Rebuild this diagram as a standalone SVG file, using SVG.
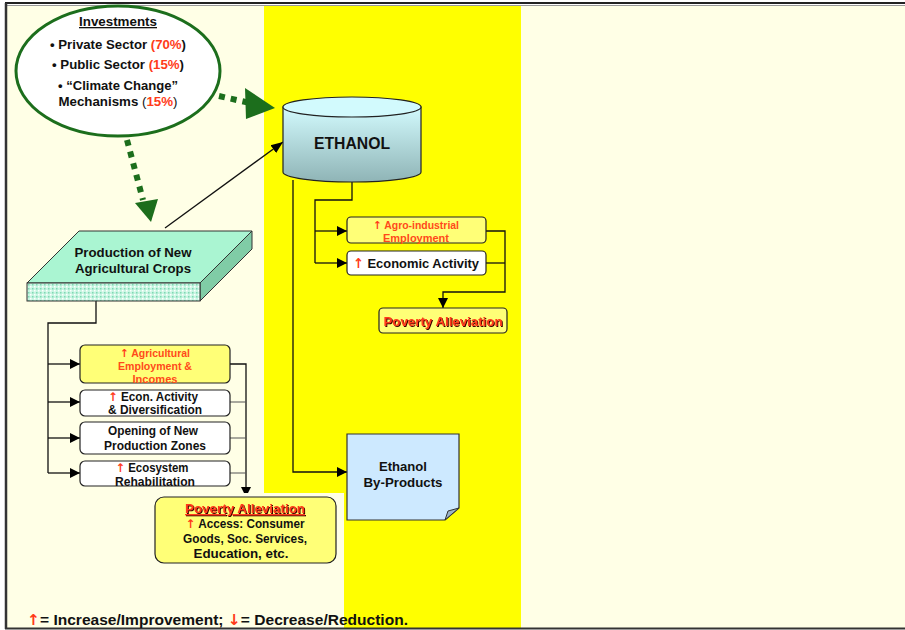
<svg xmlns="http://www.w3.org/2000/svg" width="905" height="630" viewBox="0 0 905 630">
<defs>
<linearGradient id="cyl" x1="0" y1="0" x2="0" y2="1">
<stop offset="0" stop-color="#d2fafd"/>
<stop offset="1" stop-color="#8fb4b6"/>
</linearGradient>
<pattern id="dots" width="4" height="4" patternUnits="userSpaceOnUse">
<rect width="4" height="4" fill="#c8f5e2"/>
<rect x="0" y="0" width="1.5" height="1.5" fill="#7fd8b3"/>
<rect x="2" y="2" width="1.5" height="1.5" fill="#ffffff"/>
</pattern>
<marker id="ah" viewBox="0 0 10 10" refX="10" refY="5" markerWidth="10" markerHeight="10" markerUnits="userSpaceOnUse" orient="auto">
<path d="M0,0 L10,5 L0,10 Z" fill="#000"/>
</marker>
<marker id="ahs" viewBox="0 0 10 10" refX="10" refY="5" markerWidth="12" markerHeight="12" markerUnits="userSpaceOnUse" orient="auto">
<path d="M0,1 L10,5 L0,9 Z" fill="#000"/>
</marker>
<filter id="sh" x="-5%" y="-20%" width="110%" height="140%">
<feDropShadow dx="1" dy="1" stdDeviation="0" flood-color="#3a0000" flood-opacity="1"/>
</filter>
<style>
text{font-family:"Liberation Sans",Arial,sans-serif;font-weight:bold;}
.c{text-anchor:middle;}
.t13{font-size:13px;fill:#111;}
.t12{font-size:12px;fill:#111;}
.r{fill:#ff3b1a;}
.ar{fill:#ff3b1a;font-family:"DejaVu Sans",sans-serif;font-weight:bold;}
.rt{font-size:11px;fill:#ff4a1a;}
.box{stroke:#222;stroke-width:1.2;}
.yb{fill:#ffff77;}
.wb{fill:#ffffff;}
.ln{fill:none;stroke:#111;stroke-width:1.3;}
.gl{fill:none;stroke:#555;stroke-width:1.2;}
.gd{fill:none;stroke:#1c6e1c;stroke-width:6;stroke-dasharray:6 6;}
</style>
</defs>

<!-- background & frame -->
<rect x="0" y="0" width="905" height="630" fill="#ffffff"/>
<rect x="6" y="5" width="899" height="623" fill="#ffffe6"/>
<rect x="264" y="5" width="257" height="488" fill="#ffff00"/>
<rect x="344" y="493" width="177" height="135" fill="#ffff00"/>
<line x1="5" y1="3" x2="905" y2="3" stroke="#222" stroke-width="2"/>
<line x1="5" y1="5.5" x2="905" y2="5.5" stroke="#999" stroke-width="1"/>
<line x1="6" y1="3" x2="6" y2="629" stroke="#333" stroke-width="2.5"/>
<line x1="5" y1="628.5" x2="905" y2="628.5" stroke="#333" stroke-width="2"/>

<!-- connectors -->
<g id="connectors">
<path class="gd" d="M219,96 L250,103"/>
<path d="M245,88 L275,108 L246,119 Z" fill="#1c6e1c"/>
<path class="gd" d="M127,140 L143,200"/>
<path d="M135,203 L151,222 L158,199 Z" fill="#1c6e1c"/>
<path class="ln" d="M165,228 L283,142" marker-end="url(#ahs)"/>
<path class="ln" d="M352,182 L352,200 L315,200 L315,263"/>
<path class="ln" d="M315,231 L347,231" marker-end="url(#ah)"/>
<path class="ln" d="M315,263 L347,263" marker-end="url(#ah)"/>
<path class="ln" d="M486,231 L505,231 L505,292 L443,292 L443,308" marker-end="url(#ah)"/>
<path class="ln" d="M486,263 L505,263"/>
<path class="ln" d="M293,180 L293,472 L347,472" marker-end="url(#ah)"/>
<path class="ln" d="M96,301 L96,323 L48,323 L48,473"/>
<path class="ln" d="M48,364 L80,364" marker-end="url(#ah)"/>
<path class="ln" d="M48,402 L80,402" marker-end="url(#ah)"/>
<path class="ln" d="M48,438 L80,438" marker-end="url(#ah)"/>
<path class="ln" d="M48,473 L80,473" marker-end="url(#ah)"/>
<path class="ln" d="M230,364 L246,364 L246,497" marker-end="url(#ah)"/>
<path class="gl" d="M230,402 L246,402 M230,438 L246,438 M230,473 L246,473"/>
</g>

<g id="investments">
<ellipse cx="118" cy="71" rx="102" ry="65" fill="#ffffff" stroke="#1c6e1c" stroke-width="3"/>
<text class="t13 c" x="118" y="26" text-decoration="underline" textLength="78" lengthAdjust="spacingAndGlyphs">Investments</text>
<text class="t13 c" x="118" y="49" textLength="136" lengthAdjust="spacingAndGlyphs">• Private Sector <tspan class="r">(70%</tspan>)</text>
<text class="t13 c" x="118" y="69" textLength="132" lengthAdjust="spacingAndGlyphs">• Public Sector <tspan class="r">(15%</tspan>)</text>
<text class="t13 c" x="118" y="90" textLength="120" lengthAdjust="spacingAndGlyphs">• “Climate Change”</text>
<text class="t13 c" x="118" y="106" textLength="119" lengthAdjust="spacingAndGlyphs">Mechanisms <tspan font-weight="normal">(</tspan><tspan class="r">15%</tspan><tspan font-weight="normal">)</tspan></text>
</g>

<g id="ethanol">
<path d="M283,107 L283,172 A69,10 0 0 0 421,172 L421,107 Z" fill="url(#cyl)" stroke="#222" stroke-width="1.2"/>
<ellipse cx="352" cy="107" rx="69" ry="10" fill="#d2fafd" stroke="#222" stroke-width="1.2"/>
<text class="c" x="352" y="149" font-size="16" fill="#111" textLength="76" lengthAdjust="spacingAndGlyphs">ETHANOL</text>
</g>

<g id="crops">
<path d="M27,283 L79,231 L252,231 L200,283 Z" fill="#aaf5d2" stroke="#333" stroke-width="1"/>
<path d="M200,283 L252,231 L252,249 L200,301 Z" fill="#80cca6" stroke="#333" stroke-width="1"/>
<rect x="27" y="283" width="173" height="18" fill="url(#dots)" stroke="#333" stroke-width="1"/>
<text class="t13 c" x="133" y="257" textLength="117" lengthAdjust="spacingAndGlyphs">Production of New</text>
<text class="t13 c" x="133" y="273" textLength="116" lengthAdjust="spacingAndGlyphs">Agricultural Crops</text>
</g>

<g id="agro-employment">
<rect class="box yb" x="347" y="217" width="139" height="26" rx="4"/>
<text class="rt c" x="416" y="229" textLength="86" lengthAdjust="spacingAndGlyphs"><tspan class="ar">↑</tspan> Agro-industrial</text>
<text class="rt c" x="416" y="242" textLength="66" lengthAdjust="spacingAndGlyphs">Employment</text>
</g>

<g id="economic-activity">
<rect class="box wb" x="347" y="251" width="139" height="24" rx="4"/>
<text class="c" x="416" y="268" font-size="13.5" fill="#111" textLength="126" lengthAdjust="spacingAndGlyphs"><tspan class="ar">↑</tspan> Economic Activity</text>
</g>

<g id="poverty-right">
<rect class="box yb" x="379" y="308" width="128" height="25" rx="4"/>
<text class="c" x="443" y="326" font-size="13.5" fill="#ff3b1a" filter="url(#sh)" textLength="119" lengthAdjust="spacingAndGlyphs">Poverty Alleviation</text>
</g>

<g id="agri-employment">
<rect class="box yb" x="80" y="345" width="150" height="38" rx="5"/>
<text class="rt c" x="155" y="357" textLength="70" lengthAdjust="spacingAndGlyphs"><tspan class="ar">↑</tspan> Agricultural</text>
<text class="rt c" x="155" y="370" textLength="74" lengthAdjust="spacingAndGlyphs">Employment &amp;</text>
<text class="rt c" x="155" y="383" textLength="45" lengthAdjust="spacingAndGlyphs">Incomes</text>
</g>

<g id="econ-diversification">
<rect class="box wb" x="80" y="390" width="150" height="26" rx="5"/>
<text class="t12 c" x="153" y="401" textLength="90" lengthAdjust="spacingAndGlyphs"><tspan class="ar">↑</tspan> Econ. Activity</text>
<text class="t12 c" x="155" y="414" textLength="94" lengthAdjust="spacingAndGlyphs">&amp; Diversification</text>
</g>

<g id="new-zones">
<rect class="box wb" x="80" y="422" width="150" height="32" rx="5"/>
<text class="t12 c" x="153" y="435" textLength="90" lengthAdjust="spacingAndGlyphs">Opening of New</text>
<text class="t12 c" x="155" y="450" textLength="102" lengthAdjust="spacingAndGlyphs">Production Zones</text>
</g>

<g id="ecosystem">
<rect class="box wb" x="80" y="461" width="150" height="25" rx="5"/>
<text class="t12 c" x="152" y="472" textLength="73" lengthAdjust="spacingAndGlyphs"><tspan class="ar">↑</tspan> Ecosystem</text>
<text class="t12 c" x="155" y="486" textLength="80" lengthAdjust="spacingAndGlyphs">Rehabilitation</text>
</g>

<g id="poverty-left">
<rect x="150" y="493" width="194" height="78" fill="#ffffe6"/>
<rect class="box yb" x="155" y="497" width="181" height="66" rx="9"/>
<text class="c" x="245" y="513" font-size="13" fill="#ff3b1a" text-decoration="underline" filter="url(#sh)" textLength="120" lengthAdjust="spacingAndGlyphs">Poverty Alleviation</text>
<text class="t12 c" x="245" y="528" textLength="119" lengthAdjust="spacingAndGlyphs"><tspan class="ar">↑</tspan> Access: Consumer</text>
<text class="t12 c" x="245" y="543" textLength="124" lengthAdjust="spacingAndGlyphs">Goods, Soc. Services,</text>
<text class="t12 c" x="241" y="558" textLength="95" lengthAdjust="spacingAndGlyphs">Education, etc.</text>
</g>

<g id="byproducts">
<path d="M347,434 L459,434 L459,508 L445,520 L347,520 Z" fill="#cde9ff" stroke="#333" stroke-width="1.2"/>
<path d="M445,520 L448,511 L459,508 Z" fill="#9bb3c6" stroke="#333" stroke-width="1"/>
<text class="t13 c" x="403" y="471" textLength="48" lengthAdjust="spacingAndGlyphs">Ethanol</text>
<text class="t13 c" x="403" y="487" textLength="79" lengthAdjust="spacingAndGlyphs">By-Products</text>
</g>

<g id="legend">
<text x="27" y="625" font-size="15" fill="#111" textLength="381" lengthAdjust="spacingAndGlyphs"><tspan class="ar">↑</tspan>= Increase/Improvement; <tspan class="ar">↓</tspan>= Decrease/Reduction.</text>
</g>
</svg>
